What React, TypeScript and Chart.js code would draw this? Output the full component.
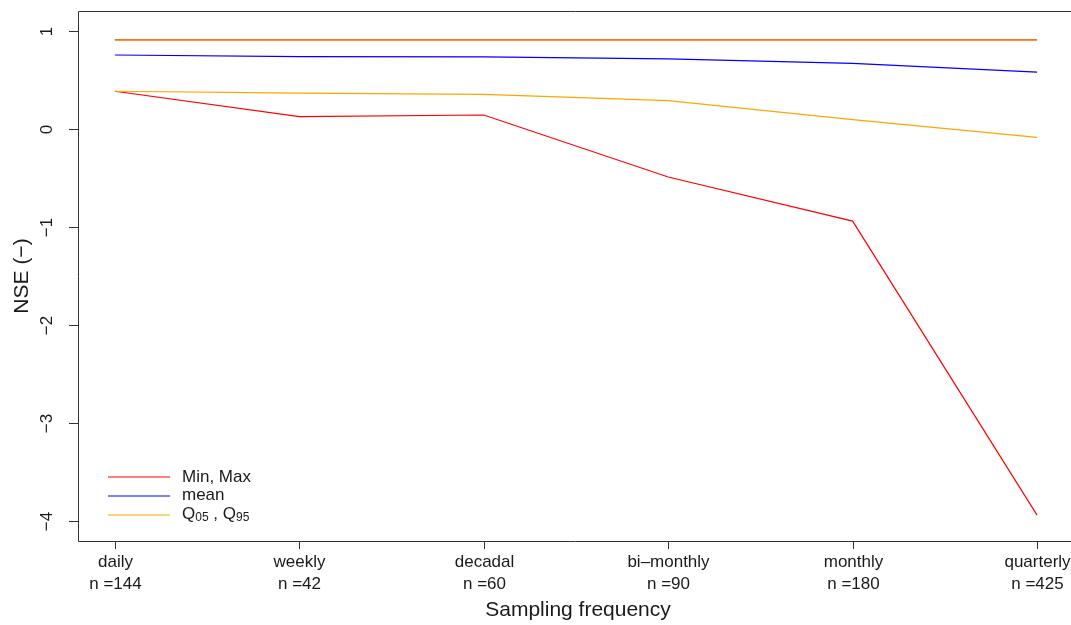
import React, { useEffect, useRef } from "react";
import { Chart, registerables } from "chart.js";

Chart.register(...registerables);

const categories = ["daily", "weekly", "decadal", "bi\u2013monthly", "monthly", "quarterly"];
const sampleSizes = [144, 42, 60, 90, 180, 425];
const yTicks = [-4, -3, -2, -1, 0, 1];

const minVals = [0.385, 0.126, 0.143, -0.49, -0.94, -3.94];
const maxVals = [0.91, 0.91, 0.91, 0.91, 0.91, 0.91];
const meanVals = [0.755, 0.738, 0.735, 0.715, 0.67, 0.58];
const q05Vals = [0.385, 0.367, 0.354, 0.289, 0.095, -0.085];
const q95Vals = [0.908, 0.908, 0.908, 0.908, 0.908, 0.908];

const RED = "#ff0000";
const BLUE = "#0000ff";
const ORANGE = "#ffa500";
const FONT = '"Liberation Sans", Arial, Helvetica, sans-serif';

const toPts = (arr: number[]) => arr.map((v, i) => ({ x: i + 1, y: v }));

const rPlot = {
  id: "rPlot",
  afterDraw(chart: any) {
    const ctx = chart.ctx;
    const xs = chart.scales.x;
    const ys = chart.scales.y;
    const { left, top, bottom } = chart.chartArea;
    ctx.save();
    // box (right side lies outside canvas)
    ctx.strokeStyle = "#333";
    ctx.lineWidth = 1;
    ctx.beginPath();
    ctx.moveTo(chart.width + 5, top + 0.5);
    ctx.lineTo(left + 0.5, top + 0.5);
    ctx.lineTo(left + 0.5, bottom + 0.5);
    ctx.lineTo(chart.width + 5, bottom + 0.5);
    ctx.stroke();

    ctx.fillStyle = "#1a1a1a";
    ctx.strokeStyle = "#333";
    // y ticks
    ctx.font = `17px ${FONT}`;
    yTicks.forEach((v) => {
      const y = Math.round(ys.getPixelForValue(v)) + 0.5;
      ctx.beginPath();
      ctx.moveTo(left, y);
      ctx.lineTo(left - 9, y);
      ctx.stroke();
      ctx.save();
      ctx.translate(47, y);
      ctx.rotate(-Math.PI / 2);
      ctx.textAlign = "center";
      ctx.textBaseline = "middle";
      ctx.fillText(v < 0 ? "\u2212" + Math.abs(v) : String(v), 0, 0);
      ctx.restore();
    });
    // x ticks
    categories.forEach((c, i) => {
      const x = Math.round(xs.getPixelForValue(i + 1)) + 0.5;
      ctx.beginPath();
      ctx.moveTo(x, bottom);
      ctx.lineTo(x, bottom + 8);
      ctx.stroke();
      ctx.textAlign = "center";
      ctx.textBaseline = "middle";
      ctx.fillText(c, x, 562);
      ctx.fillText("n =" + sampleSizes[i], x, 584);
    });
    // axis titles
    ctx.font = `21px ${FONT}`;
    ctx.textAlign = "center";
    ctx.textBaseline = "middle";
    ctx.fillText("Sampling frequency", 578, 610);
    ctx.save();
    ctx.translate(22, (top + bottom) / 2);
    ctx.rotate(-Math.PI / 2);
    ctx.fillText("NSE (\u2212)", 0, 0);
    ctx.restore();

    // legend
    const rows = [
      { color: RED, y: 477 },
      { color: BLUE, y: 496 },
      { color: ORANGE, y: 515 },
    ];
    rows.forEach((r) => {
      ctx.strokeStyle = r.color;
      ctx.lineWidth = 1.2;
      ctx.beginPath();
      ctx.moveTo(108, r.y);
      ctx.lineTo(170, r.y);
      ctx.stroke();
    });
    ctx.fillStyle = "#1a1a1a";
    ctx.textAlign = "left";
    ctx.textBaseline = "middle";
    ctx.font = `17px ${FONT}`;
    ctx.fillText("Min, Max", 182, 477);
    ctx.fillText("mean", 182, 495);
    // Q05 , Q95
    let cx = 182;
    const ly = 514;
    ctx.font = `17px ${FONT}`;
    ctx.fillText("Q", cx, ly);
    cx += ctx.measureText("Q").width;
    ctx.font = `12px ${FONT}`;
    ctx.fillText("05", cx, ly + 4);
    cx += ctx.measureText("05").width;
    ctx.font = `17px ${FONT}`;
    ctx.fillText(" , Q", cx, ly);
    cx += ctx.measureText(" , Q").width;
    ctx.font = `12px ${FONT}`;
    ctx.fillText("95", cx, ly + 4);
    ctx.restore();
  },
};

export default function App() {
  const ref = useRef<HTMLCanvasElement | null>(null);
  useEffect(() => {
    document.body.style.margin = "0";
    const canvas = ref.current!;
    const ds = (label: string, data: number[], color: string) => ({
      label,
      data: toPts(data),
      borderColor: color,
      backgroundColor: color,
      borderWidth: 1.2,
      pointRadius: 0,
      tension: 0,
      fill: false,
    });
    const chart = new Chart(canvas, {
      type: "line",
      data: {
        datasets: [
          ds("Q95", q95Vals, ORANGE),
          ds("Q05", q05Vals, ORANGE),
          ds("mean", meanVals, BLUE),
          ds("Max", maxVals, RED),
          ds("Min", minVals, RED),
        ],
      },
      options: {
        animation: false,
        responsive: false,
        devicePixelRatio: 1,
        layout: { padding: { left: 78, top: 11, right: 0, bottom: 84 } },
        plugins: { legend: { display: false }, tooltip: { enabled: false } },
        events: [],
        scales: {
          x: { type: "linear", min: 0.8, max: 6.184, display: false },
          y: { type: "linear", min: -4.204, max: 1.204, display: false },
        },
      },
      plugins: [rPlot],
    });
    return () => chart.destroy();
  }, []);
  return (
    <div style={{ position: "absolute", left: 0, top: 0, width: 1071, height: 625, background: "#fff" }}>
      <canvas ref={ref} width={1071} height={625} />
    </div>
  );
}
